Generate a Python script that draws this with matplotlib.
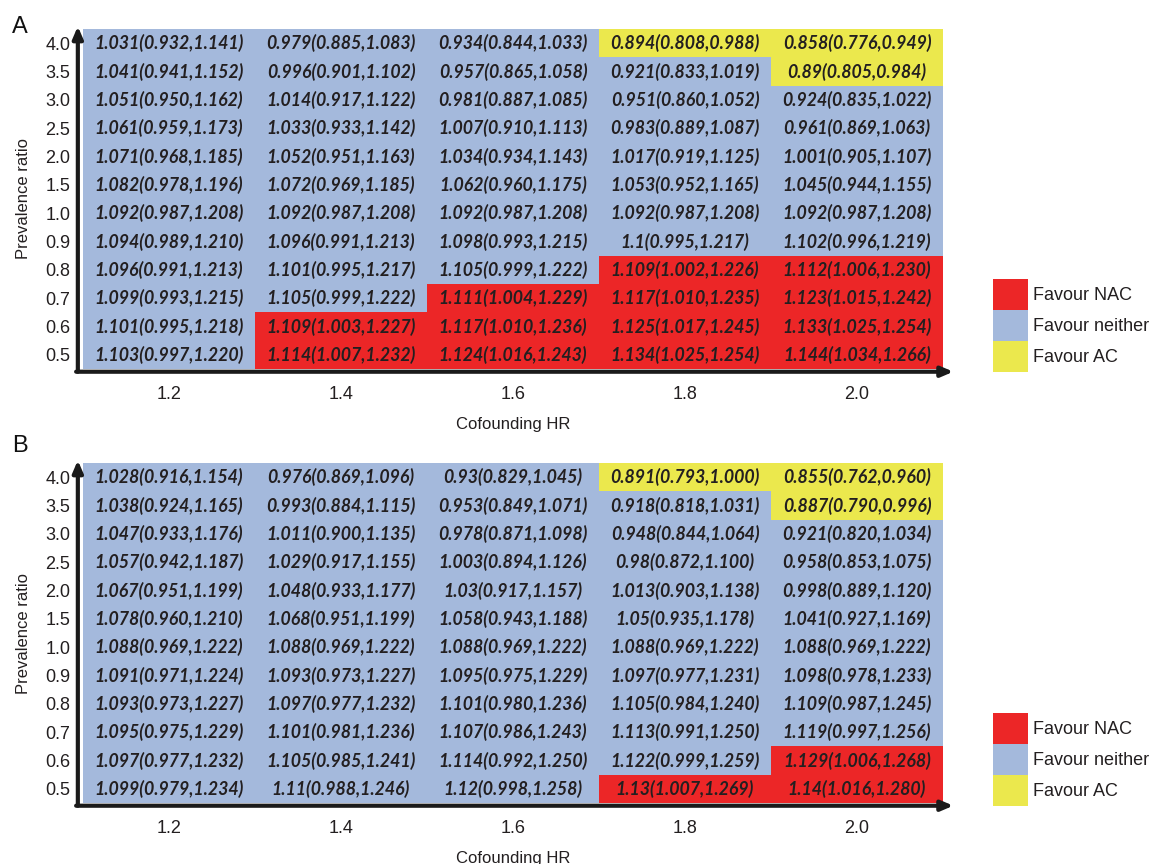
import matplotlib
matplotlib.use("Agg")
import matplotlib.pyplot as plt
import numpy as np
from matplotlib.colors import ListedColormap
from matplotlib.patches import Patch

plt.rcParams['font.family'] = ['Liberation Sans', 'DejaVu Sans']

# Axes categories
hr_labels = ["1.2", "1.4", "1.6", "1.8", "2.0"]
pr_labels = ["4.0", "3.5", "3.0", "2.5", "2.0", "1.5", "1.0", "0.9", "0.8", "0.7", "0.6", "0.5"]

# Panel A: estimate, lower and upper bound (rows top to bottom, columns by HR)
a_est = [
    [1.031, 0.979, 0.934, 0.894, 0.858],
    [1.041, 0.996, 0.957, 0.921, 0.89],
    [1.051, 1.014, 0.981, 0.951, 0.924],
    [1.061, 1.033, 1.007, 0.983, 0.961],
    [1.071, 1.052, 1.034, 1.017, 1.001],
    [1.082, 1.072, 1.062, 1.053, 1.045],
    [1.092, 1.092, 1.092, 1.092, 1.092],
    [1.094, 1.096, 1.098, 1.1, 1.102],
    [1.096, 1.101, 1.105, 1.109, 1.112],
    [1.099, 1.105, 1.111, 1.117, 1.123],
    [1.101, 1.109, 1.117, 1.125, 1.133],
    [1.103, 1.114, 1.124, 1.134, 1.144],
]
a_lo = [
    [0.932, 0.885, 0.844, 0.808, 0.776],
    [0.941, 0.901, 0.865, 0.833, 0.805],
    [0.950, 0.917, 0.887, 0.860, 0.835],
    [0.959, 0.933, 0.910, 0.889, 0.869],
    [0.968, 0.951, 0.934, 0.919, 0.905],
    [0.978, 0.969, 0.960, 0.952, 0.944],
    [0.987, 0.987, 0.987, 0.987, 0.987],
    [0.989, 0.991, 0.993, 0.995, 0.996],
    [0.991, 0.995, 0.999, 1.002, 1.006],
    [0.993, 0.999, 1.004, 1.010, 1.015],
    [0.995, 1.003, 1.010, 1.017, 1.025],
    [0.997, 1.007, 1.016, 1.025, 1.034],
]
a_hi = [
    [1.141, 1.083, 1.033, 0.988, 0.949],
    [1.152, 1.102, 1.058, 1.019, 0.984],
    [1.162, 1.122, 1.085, 1.052, 1.022],
    [1.173, 1.142, 1.113, 1.087, 1.063],
    [1.185, 1.163, 1.143, 1.125, 1.107],
    [1.196, 1.185, 1.175, 1.165, 1.155],
    [1.208, 1.208, 1.208, 1.208, 1.208],
    [1.210, 1.213, 1.215, 1.217, 1.219],
    [1.213, 1.217, 1.222, 1.226, 1.230],
    [1.215, 1.222, 1.229, 1.235, 1.242],
    [1.218, 1.227, 1.236, 1.245, 1.254],
    [1.220, 1.232, 1.243, 1.254, 1.266],
]

# Panel B
b_est = [
    [1.028, 0.976, 0.93, 0.891, 0.855],
    [1.038, 0.993, 0.953, 0.918, 0.887],
    [1.047, 1.011, 0.978, 0.948, 0.921],
    [1.057, 1.029, 1.003, 0.98, 0.958],
    [1.067, 1.048, 1.03, 1.013, 0.998],
    [1.078, 1.068, 1.058, 1.05, 1.041],
    [1.088, 1.088, 1.088, 1.088, 1.088],
    [1.091, 1.093, 1.095, 1.097, 1.098],
    [1.093, 1.097, 1.101, 1.105, 1.109],
    [1.095, 1.101, 1.107, 1.113, 1.119],
    [1.097, 1.105, 1.114, 1.122, 1.129],
    [1.099, 1.11, 1.12, 1.13, 1.14],
]
b_lo = [
    [0.916, 0.869, 0.829, 0.793, 0.762],
    [0.924, 0.884, 0.849, 0.818, 0.790],
    [0.933, 0.900, 0.871, 0.844, 0.820],
    [0.942, 0.917, 0.894, 0.872, 0.853],
    [0.951, 0.933, 0.917, 0.903, 0.889],
    [0.960, 0.951, 0.943, 0.935, 0.927],
    [0.969, 0.969, 0.969, 0.969, 0.969],
    [0.971, 0.973, 0.975, 0.977, 0.978],
    [0.973, 0.977, 0.980, 0.984, 0.987],
    [0.975, 0.981, 0.986, 0.991, 0.997],
    [0.977, 0.985, 0.992, 0.999, 1.006],
    [0.979, 0.988, 0.998, 1.007, 1.016],
]
b_hi = [
    [1.154, 1.096, 1.045, 1.000, 0.960],
    [1.165, 1.115, 1.071, 1.031, 0.996],
    [1.176, 1.135, 1.098, 1.064, 1.034],
    [1.187, 1.155, 1.126, 1.100, 1.075],
    [1.199, 1.177, 1.157, 1.138, 1.120],
    [1.210, 1.199, 1.188, 1.178, 1.169],
    [1.222, 1.222, 1.222, 1.222, 1.222],
    [1.224, 1.227, 1.229, 1.231, 1.233],
    [1.227, 1.232, 1.236, 1.240, 1.245],
    [1.229, 1.236, 1.243, 1.250, 1.256],
    [1.232, 1.241, 1.250, 1.259, 1.268],
    [1.234, 1.246, 1.258, 1.269, 1.280],
]

BLUE = "#a4b9dc"
RED = "#ec2627"
YELLOW = "#ebe84d"
TXT = "#231f20"
cmap = ListedColormap([RED, BLUE, YELLOW])

W, H = 1153, 864
fig = plt.figure(figsize=(W / 100, H / 100), dpi=100)


def px_axes(left, top, right, bottom):
    return fig.add_axes([left / W, 1 - bottom / H, (right - left) / W, (bottom - top) / H])


def draw_panel(ax, est, lo, hi, letter, letter_y):
    est = np.array(est)
    lo = np.array(lo)
    hi = np.array(hi)
    # 0 = favour NAC (CI above 1), 2 = favour AC (CI at/below 1), 1 = neither
    cat = np.ones_like(est)
    cat[lo > 1] = 0
    cat[hi <= 1] = 2
    nr, nc = est.shape
    ax.pcolormesh(np.arange(nc + 1), np.arange(nr + 1), cat, cmap=cmap, vmin=-0.5, vmax=2.5)
    ax.set_xlim(0, nc)
    ax.set_ylim(nr, 0)
    for i in range(nr):
        for j in range(nc):
            s = f"{est[i, j]:g}({lo[i, j]:.3f},{hi[i, j]:.3f})"
            ax.text(j + 0.5, i + 0.5, s, ha='center', va='center', color=TXT,
                    fontsize=12.8, fontweight='bold', style='italic', family='Lato')
    for sp in ax.spines.values():
        sp.set_visible(False)
    ax.set_xticks(np.arange(nc) + 0.5)
    ax.set_xticklabels(hr_labels)
    ax.set_yticks(np.arange(nr) + 0.5)
    ax.set_yticklabels(pr_labels)
    ax.tick_params(length=0, labelsize=13, labelcolor=TXT)
    ax.tick_params(axis='x', pad=12)
    ax.tick_params(axis='y', pad=9)
    ax.set_xlabel("Cofounding HR", fontsize=12, color=TXT, labelpad=10)
    ax.set_ylabel("Prevalence ratio", fontsize=12, color=TXT, labelpad=10)
    # arrowed axes
    arrow = dict(arrowstyle='-|>,head_length=0.7,head_width=0.3', color='#1a1a1a', lw=3,
                 shrinkA=0, shrinkB=0)
    ax.annotate("", xy=(-0.006, 1.008), xytext=(-0.006, -0.008), xycoords='axes fraction',
                arrowprops=arrow, annotation_clip=False)
    ax.annotate("", xy=(1.012, -0.008), xytext=(-0.008, -0.008), xycoords='axes fraction',
                arrowprops=arrow, annotation_clip=False)
    handles = [Patch(facecolor=RED, label="Favour NAC"),
               Patch(facecolor=BLUE, label="Favour neither"),
               Patch(facecolor=YELLOW, label="Favour AC")]
    ax.legend(handles=handles, loc='lower left', bbox_to_anchor=(1.058, -0.01),
              frameon=False, fontsize=13, handlelength=1.94, handleheight=2.27,
              labelspacing=0, handletextpad=0.3, borderpad=0, borderaxespad=0,
              labelcolor=TXT)
    fig.text(12 / W, 1 - letter_y / H, letter, fontsize=17, color='#111111',
             ha='left', va='baseline')


ax_a = px_axes(83, 29, 943, 369)
draw_panel(ax_a, a_est, a_lo, a_hi, "A", 33)
ax_b = px_axes(83, 463, 943, 803)
draw_panel(ax_b, b_est, b_lo, b_hi, "B", 452)

fig.savefig("out.png", dpi=100)
